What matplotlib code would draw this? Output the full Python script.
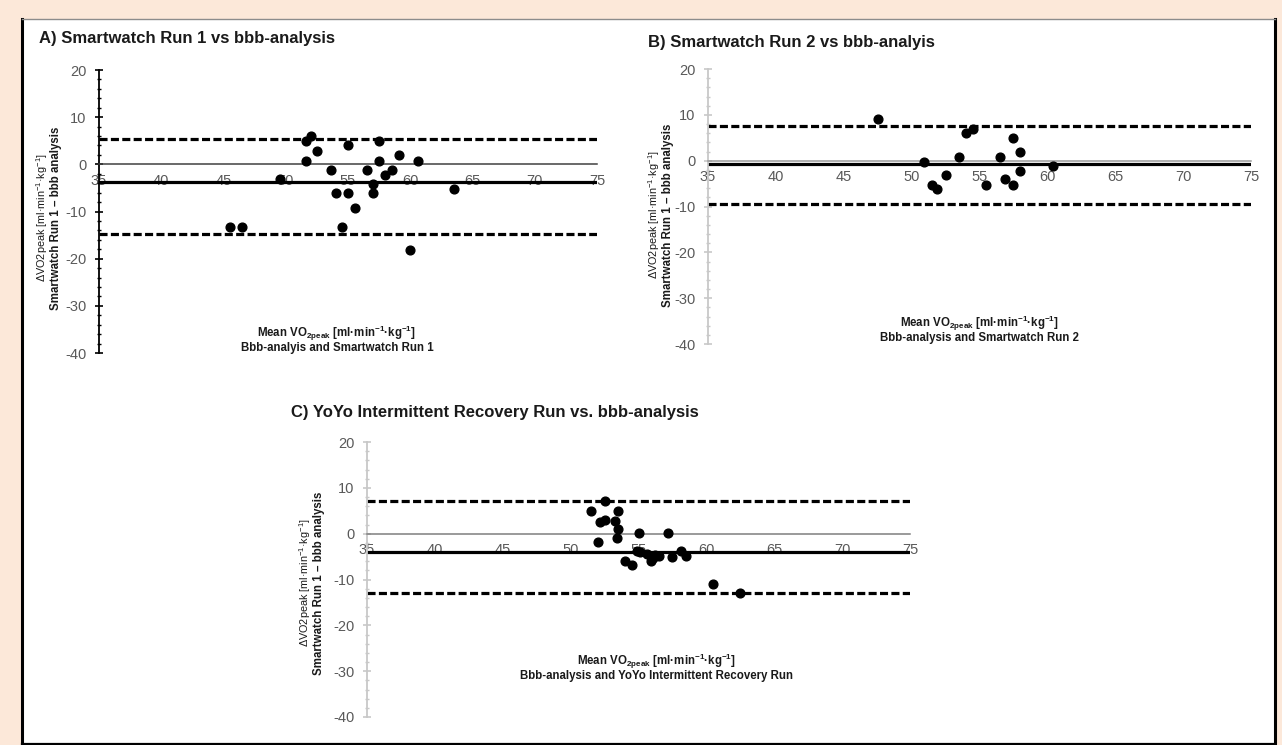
"""Bland-Altman panels: smartwatch runs and YoYo IR run vs breath-by-breath analysis."""
import matplotlib

matplotlib.use("Agg")
import matplotlib.pyplot as plt
from matplotlib import font_manager
from matplotlib.lines import Line2D
from matplotlib.patches import Rectangle
from matplotlib.ticker import MultipleLocator

# --- values ---------------------------------------------------------------------
A_MEAN = [45.5, 46.5, 49.5, 51.6, 52.0, 51.6, 52.5, 53.6, 54.0, 55.0, 55.0, 55.6,
          54.5, 56.5, 57.0, 57.0, 57.5, 57.5, 58.0, 58.5, 59.1, 60.6, 60.0, 63.5]
A_DIFF = [-13.2, -13.2, -3.1, 4.9, 6.1, 0.8, 2.8, -1.1, -6.1, 4.0, -6.1, -9.3,
          -13.2, -1.1, -4.1, -6.1, 4.9, 0.8, -2.2, -1.1, 1.9, 0.8, -18.1, -5.2]
A_LINES = (-3.85, 5.35, -14.7)          # bias, upper LoA, lower LoA

B_MEAN = [47.5, 50.9, 51.5, 51.9, 52.5, 53.5, 54.0, 54.5, 55.5, 56.5, 56.9, 57.5,
          57.5, 58.0, 58.0, 60.4]
B_DIFF = [9.1, -0.2, -5.2, -6.2, -3.2, 0.8, 6.0, 7.0, -5.2, 0.8, -4.1, -5.2,
          4.9, 2.0, -2.2, -1.1]
B_LINES = (-0.7, 7.6, -9.5)

C_MEAN = [51.5, 52.0, 52.2, 52.5, 52.55, 53.25, 53.5, 53.5, 53.4, 54.0, 54.5, 55.0,
          54.9, 55.1, 55.65, 55.9, 56.05, 56.2, 56.5, 57.15, 57.5, 58.1, 58.5, 60.5, 62.5]
C_DIFF = [5.0, -1.9, 2.5, 3.0, 7.2, 2.8, 5.0, 1.0, -1.0, -5.9, -6.8, 0.2,
          -3.7, -4.1, -4.4, -5.9, -5.2, -4.6, -4.9, 0.2, -5.0, -3.7, -4.9, -11.0, -12.9]
C_LINES = (-3.9, 7.2, -13.0)

TITLES = ["A) Smartwatch Run 1 vs bbb-analysis",
          "B) Smartwatch Run 2 vs bbb-analyis",
          "C) YoYo Intermittent Recovery Run vs. bbb-analysis"]
XLABEL2 = ["Bbb-analyis and Smartwatch Run 1",
           "Bbb-analysis and Smartwatch Run 2",
           "Bbb-analysis and YoYo Intermittent Recovery Run"]
XLABEL1 = r"Mean VO$_{\mathbf{2peak}}$ [ml·min$^{\mathbf{-1}}$·kg$^{\mathbf{-1}}$]"
YLABEL1 = r"ΔVO2peak [ml·min$^{-1}$·kg$^{-1}$]"
YLABEL2 = "Smartwatch Run 1 – bbb analysis"
XTICKS = [35, 40, 45, 50, 55, 60, 65, 70, 75]

W, H = 1282, 745
BEIGE = "#fce8d9"
GREY = "#595959"

names = {f.name for f in font_manager.fontManager.ttflist}
NARROW = "Liberation Sans Narrow" if "Liberation Sans Narrow" in names else "Liberation Sans"
plt.rcParams["font.family"] = ["Liberation Sans", "DejaVu Sans"]
plt.rcParams["mathtext.fontset"] = "custom"
plt.rcParams["mathtext.rm"] = "Liberation Sans"
plt.rcParams["mathtext.bf"] = "Liberation Sans:bold"
plt.rcParams["lines.scale_dashes"] = False
plt.rcParams["axes.unicode_minus"] = False


def fx(px):
    return px / W


def fy(py):
    return 1 - py / H


def panel(fig, box, mean, diff, lines, axis_col, zero_col):
    x0, y0, x1, y1 = box
    ax = fig.add_axes([fx(x0), fy(y1), fx(x1 - x0), (y1 - y0) / H])
    ax.set_xlim(35, 75)
    ax.set_ylim(-40, 20)
    ax.patch.set_alpha(0)
    for s in ("top", "right"):
        ax.spines[s].set_visible(False)
    ax.spines["bottom"].set_position(("data", 0))
    ax.spines["bottom"].set_color(zero_col)
    ax.spines["bottom"].set_linewidth(1.1)
    ax.spines["left"].set_color(axis_col)
    ax.spines["left"].set_linewidth(1.3)
    ax.set_xticks(XTICKS)
    ax.tick_params(axis="x", length=0, pad=7, labelsize=10.5, labelcolor=GREY)
    ax.yaxis.set_major_locator(MultipleLocator(10))
    ax.yaxis.set_minor_locator(MultipleLocator(2))
    ax.tick_params(axis="y", which="major", direction="inout", length=6, width=1.2,
                   color=axis_col, pad=6, labelsize=10.5, labelcolor=GREY)
    ax.tick_params(axis="y", which="minor", direction="inout", length=3.5, width=1.0,
                   color=axis_col)

    bias, upper, lower = lines
    ax.axhline(bias, color="black", linewidth=2.3, zorder=2)
    for v in (upper, lower):
        ax.axhline(v, color="black", linewidth=2.3, dashes=[5.8, 2.4], zorder=2)
    ax.plot(mean, diff, "o", color="black", markersize=6.3, zorder=3)
    return ax


fig = plt.figure(figsize=(W / 100, H / 100), dpi=100, facecolor=BEIGE)

# white frame on the beige page, kept behind the axes
fig.patches.append(Rectangle((fx(22), fy(745)), fx(1275 - 22), (745 - 19) / H,
                             transform=fig.transFigure, facecolor="white",
                             edgecolor="none", zorder=-10))
for xs, ys, col, lw in [((22, 22), (19, 745), "black", 2.2),
                        ((1275, 1275), (19, 745), "black", 2.2),
                        ((22, 1275), (743.5, 743.5), "black", 1.6),
                        ((22, 1275), (19, 19), "#8c8c8c", 1.0)]:
    fig.lines.append(Line2D([fx(v) for v in xs], [fy(v) for v in ys],
                            transform=fig.transFigure, color=col, linewidth=lw,
                            zorder=-5))

panel(fig, (99, 70, 597, 353), A_MEAN, A_DIFF, A_LINES, "black", "#404040")
panel(fig, (708, 69, 1251, 344), B_MEAN, B_DIFF, B_LINES, "#c8c8c8", "#9a9a9a")
panel(fig, (367, 442, 910, 717), C_MEAN, C_DIFF, C_LINES, "#c8c8c8", "#7f7f7f")

# titles
for (x, y), t in zip([(39, 39), (648, 43), (291, 412)], TITLES):
    fig.text(fx(x), fy(y), t, family=NARROW, fontsize=12, fontweight="bold",
             ha="left", va="center", color="#1a1a1a")

# x labels (inside the plotting area)
for (x, y), t in zip([(337, 333), (980, 323), (657, 661)], XLABEL2):
    fig.text(fx(x), fy(y), XLABEL1, fontsize=8.3, fontweight="bold",
             ha="center", va="center", color="#1a1a1a")
    fig.text(fx(x), fy(y + 15), t, fontsize=8.3, fontweight="bold",
             ha="center", va="center", color="#1a1a1a")

# y labels
for x, y in [(42, 218), (654, 215), (305, 583)]:
    fig.text(fx(x), fy(y), YLABEL1, fontsize=7.8, rotation=90,
             ha="center", va="center", color="#1a1a1a")
    fig.text(fx(x + 14), fy(y), YLABEL2, fontsize=8.3, fontweight="bold", rotation=90,
             ha="center", va="center", color="#1a1a1a")

fig.savefig("out.png", dpi=100, facecolor=BEIGE)
